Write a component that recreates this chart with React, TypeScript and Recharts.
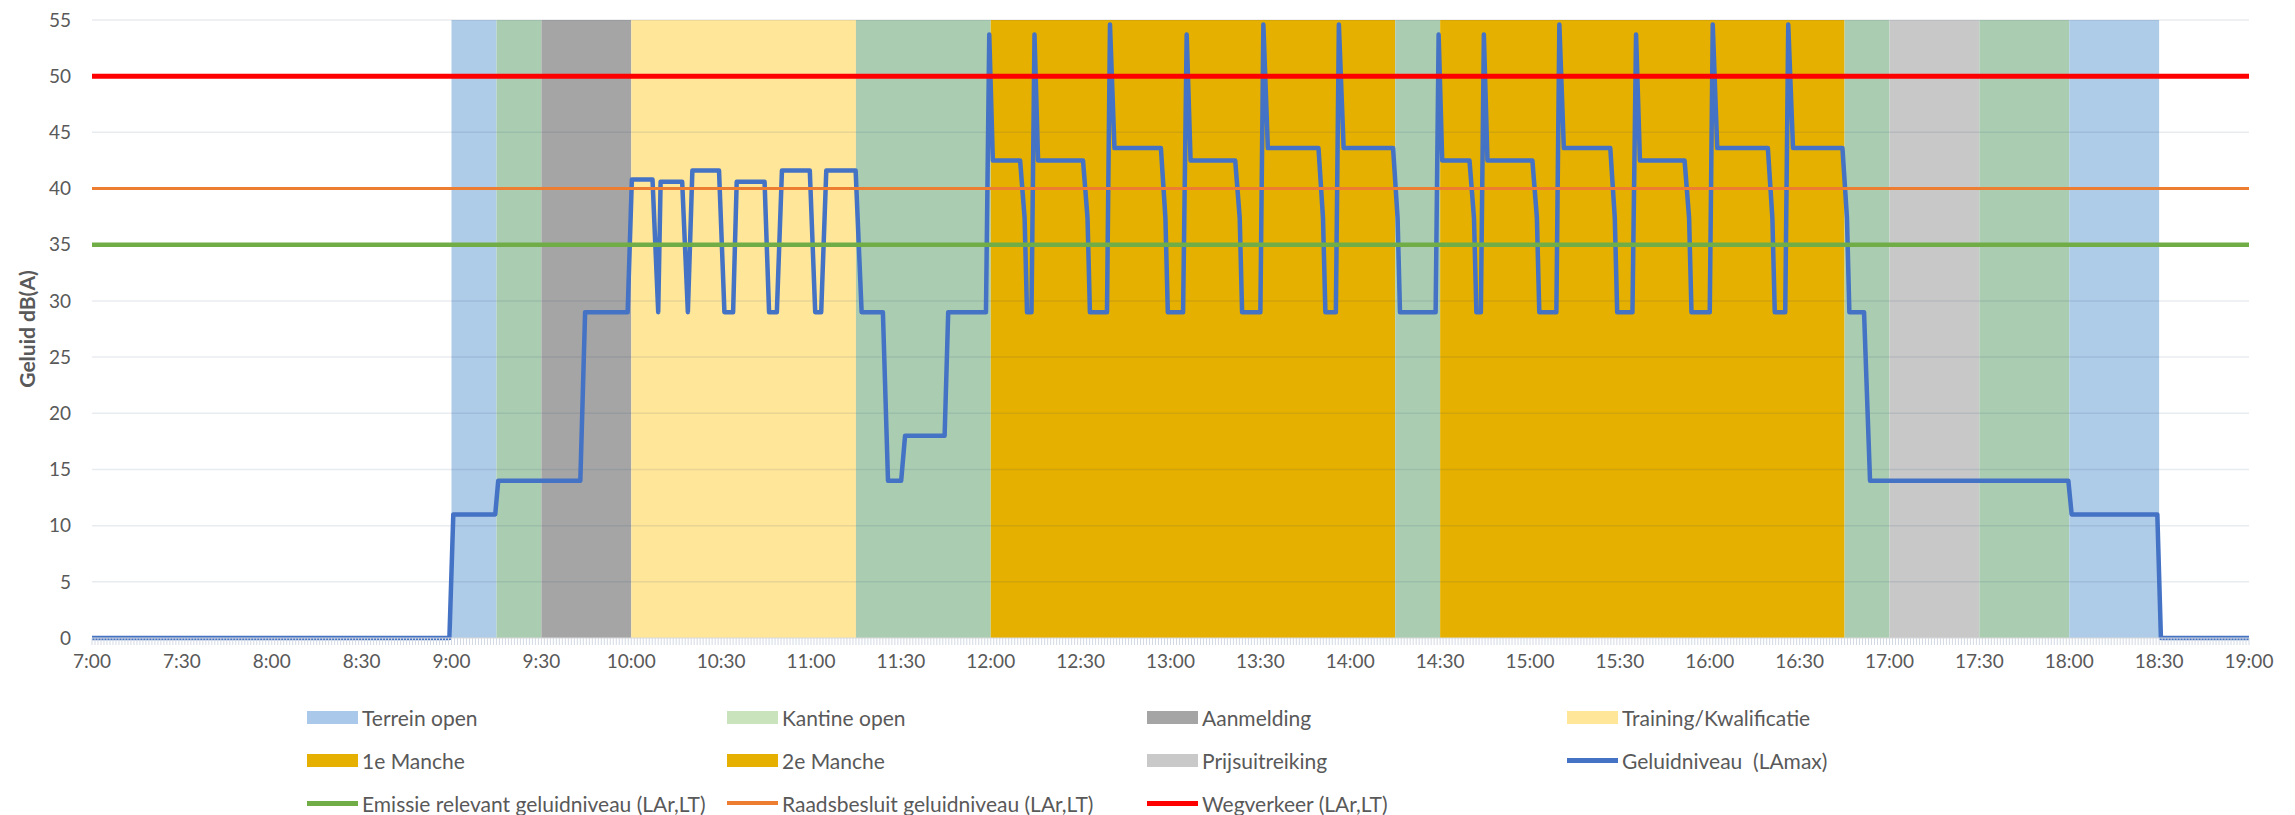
import React from "react";
import { ComposedChart, Line, XAxis, YAxis, ReferenceArea, ReferenceLine, Label } from "recharts";

// time of day labels on the x axis
const xTickLabels = [
  "7:00", "7:30", "8:00", "8:30", "9:00", "9:30", "10:00", "10:30", "11:00", "11:30", "12:00", "12:30",
  "13:00", "13:30", "14:00", "14:30", "15:00", "15:30", "16:00", "16:30", "17:00", "17:30", "18:00", "18:30", "19:00",
];
const yTicks = [0, 5, 10, 15, 20, 25, 30, 35, 40, 45, 50, 55];

// programme blocks
const bandNames = [
  "Terrein open", "Kantine open", "Aanmelding", "Training/Kwalificatie", "Kantine open", "1e Manche",
  "Kantine open", "2e Manche", "Kantine open", "Prijsuitreiking", "Kantine open", "Terrein open",
];
const bandStarts = ["9:00", "9:15", "9:30", "10:00", "11:15", "12:00", "14:15", "14:30", "16:45", "17:00", "17:30", "18:00"];
const bandEnds = ["9:15", "9:30", "10:00", "11:15", "12:00", "14:15", "14:30", "16:45", "17:00", "17:30", "18:00", "18:30"];

// Geluidniveau (LAmax): minute of the day / dB(A)
const levelTimes = [
  420, 539.3, 540.6, 554.6, 555.6, 583, 584.6, 598.8, 600.2, 607.1, 609, 609.8, 617, 618.9, 620.4, 629.3,
  631.1, 634, 635.2, 644.5, 646, 648.6, 650.3, 659.6, 661.4, 663.4, 665.1, 674.9, 676.9, 684, 685.7, 690.1,
  691.4, 704.6, 705.8, 718.4,
  719.5, 720.7, 729.8, 731.3, 732.1, 733.6, 734.6, 735.8, 750.8, 752.3, 753.1, 758.8, 759.8, 761.3, 776.8,
  778.3, 779.1, 784.2, 785.4, 786.7, 801.6, 803.1, 803.9, 810, 811, 812.5, 829.4, 830.9, 831.7, 835.2, 836.2,
  837.8, 854.3, 855.8, 856.6, 868.5,
  869.5, 870.7, 879.8, 881.3, 882.1, 883.6, 884.6, 885.8, 900.8, 902.3, 903.1, 908.8, 909.8, 911.3, 926.8,
  928.3, 929.1, 934.2, 935.4, 936.7, 951.6, 953.1, 953.9, 960, 961, 962.5, 979.4, 980.9, 981.7, 985.2, 986.2,
  987.8, 1004.3, 1005.8, 1006.6, 1011.5, 1013.5, 1079.7, 1080.8, 1109.4, 1110.6, 1140,
];
const levelValues = [
  0, 0, 11, 11, 14, 14, 29, 29, 40.8, 40.8, 29, 40.6, 40.6, 29, 41.6, 41.6,
  29, 29, 40.6, 40.6, 29, 29, 41.6, 41.6, 29, 29, 41.6, 41.6, 29, 29, 14, 14,
  18, 18, 29, 29,
  53.7, 42.5, 42.5, 37.4, 29, 29, 53.7, 42.5, 42.5, 37.4, 29, 29, 54.6, 43.6, 43.6,
  37.4, 29, 29, 53.7, 42.5, 42.5, 37.4, 29, 29, 54.6, 43.6, 43.6, 37.4, 29, 29, 54.6,
  43.6, 43.6, 37.4, 29, 29,
  53.7, 42.5, 42.5, 37.4, 29, 29, 53.7, 42.5, 42.5, 37.4, 29, 29, 54.6, 43.6, 43.6,
  37.4, 29, 29, 53.7, 42.5, 42.5, 37.4, 29, 29, 54.6, 43.6, 43.6, 37.4, 29, 29, 54.6,
  43.6, 43.6, 37.4, 29, 29, 14, 14, 11, 11, 0, 0,
];

const emissieLevel = 35;
const raadsLevel = 40;
const wegLevel = 50;

const legendNames = [
  "Terrein open", "Kantine open", "Aanmelding", "Training/Kwalificatie",
  "1e Manche", "2e Manche", "Prijsuitreiking", "Geluidniveau  (LAmax)",
  "Emissie relevant geluidniveau (LAr,LT)", "Raadsbesluit geluidniveau (LAr,LT)", "Wegverkeer (LAr,LT)",
];

const bandFill: Record<string, string> = {
  "Terrein open": "#AECBE8",
  "Kantine open": "#AACDB2",
  Aanmelding: "#A5A5A5",
  "Training/Kwalificatie": "#FFE699",
  "1e Manche": "#E6B000",
  "2e Manche": "#E6B000",
  Prijsuitreiking: "#C8C8C8",
};
const legendStyle: Record<string, { color: string; h: number }> = {
  "Terrein open": { color: "#A9C8EA", h: 13 },
  "Kantine open": { color: "#C9E3BD", h: 13 },
  Aanmelding: { color: "#A5A5A5", h: 13 },
  "Training/Kwalificatie": { color: "#FFE699", h: 13 },
  "1e Manche": { color: "#E6B000", h: 13 },
  "2e Manche": { color: "#E6B000", h: 13 },
  Prijsuitreiking: { color: "#C9C9C9", h: 13 },
  "Geluidniveau  (LAmax)": { color: "#4472C4", h: 5 },
  "Emissie relevant geluidniveau (LAr,LT)": { color: "#70AD47", h: 5 },
  "Raadsbesluit geluidniveau (LAr,LT)": { color: "#ED7D31", h: 4 },
  "Wegverkeer (LAr,LT)": { color: "#FF0000", h: 5 },
};

const toMin = (s: string) => {
  const [h, m] = s.split(":").map(Number);
  return h * 60 + m;
};

const data = levelTimes.map((t, i) => ({
  t,
  level: levelValues[i],
  emissie: emissieLevel,
  raads: raadsLevel,
  weg: wegLevel,
}));

const labelByMinute = new Map(xTickLabels.map((l) => [toMin(l), l]));
const xStart = toMin(xTickLabels[0]);
const xEnd = toMin(xTickLabels[xTickLabels.length - 1]);
const minuteTicks = Array.from({ length: xEnd - xStart + 1 }, (_, i) => xStart + i);

const textColor = "#595959";

const XTick = (props: any) => {
  const { x, y, payload } = props;
  const label = labelByMinute.get(payload.value);
  if (!label) return <g />;
  return (
    <text x={x} y={y} dy="0.71em" textAnchor="middle" fill={textColor} fontSize={19}>
      {label}
    </text>
  );
};

const YTitle = (props: any) => {
  const vb = props.viewBox || { y: 20, height: 618 };
  const cx = 26;
  const cy = vb.y + vb.height / 2;
  return (
    <text x={cx} y={cy} transform={`rotate(-90 ${cx} ${cy})`} textAnchor="middle" dominantBaseline="central"
      fontWeight={700} fontSize={21} fill={textColor}>
      Geluid dB(A)
    </text>
  );
};

export default function App() {
  return (
    <div style={{ position: "absolute", left: 0, top: 0, width: 2295, height: 815, background: "#fff", fontFamily: "Lato, sans-serif" }}>
      <ComposedChart width={2295} height={700} data={data} margin={{ top: 20, right: 46, left: 0, bottom: 22 }}>
        <XAxis
          dataKey="t"
          type="number"
          domain={[xStart, xEnd]}
          ticks={minuteTicks}
          interval={0}
          tickSize={7}
          tickMargin={10}
          tickLine={{ stroke: "#D3D9E3" }}
          axisLine={{ stroke: "#D9D9D9" }}
          height={40}
          tick={XTick}
          allowDataOverflow
        />
        <YAxis
          type="number"
          domain={[0, 55]}
          ticks={yTicks}
          interval={0}
          width={92}
          axisLine={false}
          tickLine={false}
          tickSize={0}
          tickMargin={21}
          tick={{ fill: textColor, fontSize: 19 }}
        >
          <Label content={YTitle} />
        </YAxis>
        {bandNames.map((name, i) => (
          <ReferenceArea
            key={`band-${i}`}
            x1={toMin(bandStarts[i])}
            x2={toMin(bandEnds[i])}
            y1={0}
            y2={55}
            fill={bandFill[name]}
            fillOpacity={1}
            stroke="none"
            zIndex={10}
          />
        ))}
        {yTicks.slice(1).map((v) => (
          <ReferenceLine key={`grid-${v}`} y={v} stroke="#1F3A6E" strokeOpacity={0.1} strokeWidth={1.5} zIndex={20} />
        ))}
        <Line dataKey="level" type="linear" stroke="#4472C4" strokeWidth={4.5} strokeLinejoin="round" dot={false}
          activeDot={false} isAnimationActive={false} zIndex={30} />
        <Line dataKey="emissie" type="linear" stroke="#70AD47" strokeWidth={4.5} dot={false} activeDot={false}
          isAnimationActive={false} zIndex={40} />
        <Line dataKey="raads" type="linear" stroke="#ED7D31" strokeWidth={3} dot={false} activeDot={false}
          isAnimationActive={false} zIndex={41} />
        <Line dataKey="weg" type="linear" stroke="#FF0000" strokeWidth={5} dot={false} activeDot={false}
          isAnimationActive={false} zIndex={42} />
      </ComposedChart>
      {legendNames.map((name, i) => {
        const row = Math.floor(i / 4);
        const col = i % 4;
        const st = legendStyle[name];
        return (
          <div
            key={name}
            style={{ position: "absolute", left: 307 + col * 420, top: 717 + row * 43 - 12, height: 24, display: "flex", alignItems: "center", whiteSpace: "pre" }}
          >
            <div style={{ width: 51, height: st.h, background: st.color, marginRight: 4 }} />
            <span style={{ fontSize: 21, color: textColor, lineHeight: 1 }}>{name}</span>
          </div>
        );
      })}
    </div>
  );
}
